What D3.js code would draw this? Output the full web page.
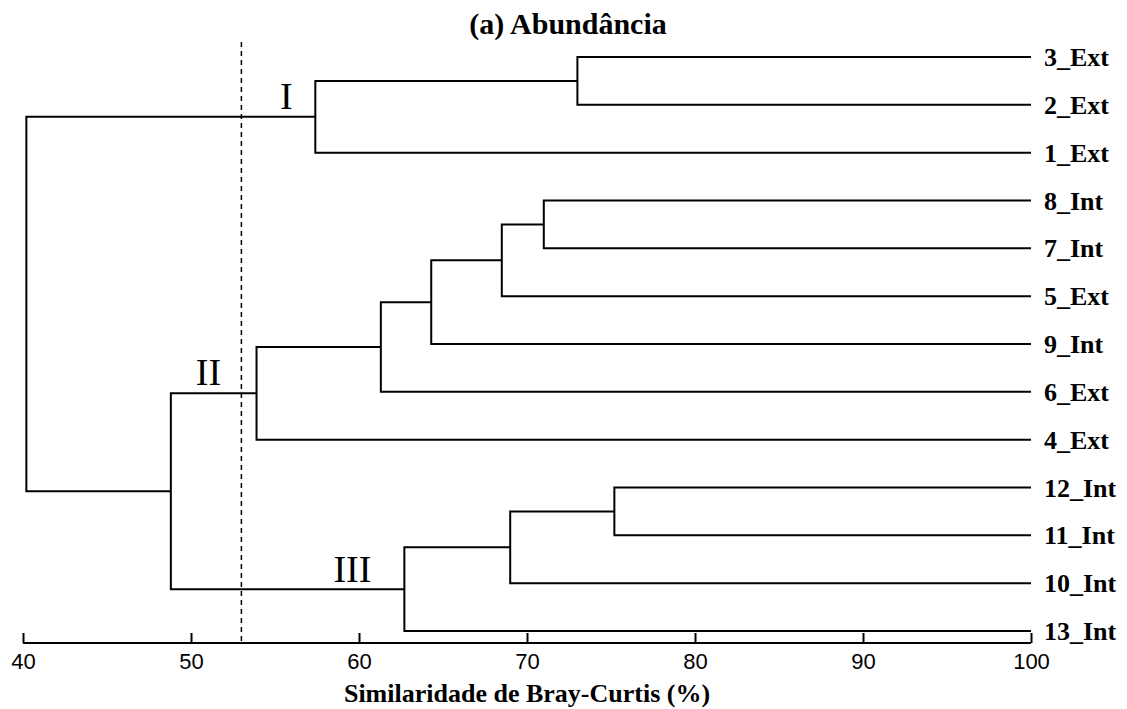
<!DOCTYPE html>
<html>
<head>
<meta charset="utf-8">
<script src="https://cdn.jsdelivr.net/npm/d3@7"></script>
<style>
  html, body { margin: 0; padding: 0; background: #fff; }
  svg { display: block; }
</style>
</head>
<body>
<svg id="chart" width="1127" height="709"></svg>
<script>
// Leaf order (top to bottom)
const leaves = ["3_Ext", "2_Ext", "1_Ext", "8_Int", "7_Int", "5_Ext", "9_Int", "6_Ext", "4_Ext", "12_Int", "11_Int", "10_Int", "13_Int"];

// Agglomeration steps: [left member, right member, Bray-Curtis similarity (%)]
// Members are leaf names or ids of earlier steps ("c0", "c1", ...)
const mergeLeft = ["3_Ext", "c0", "8_Int", "c2", "c3", "c4", "c5", "12_Int", "c7", "c8", "c6", "c1"];
const mergeRight = ["2_Ext", "1_Ext", "7_Int", "5_Ext", "9_Int", "6_Ext", "4_Ext", "11_Int", "10_Int", "13_Int", "c9", "c10"];
const mergeSimilarity = [73.0, 57.4, 71.0, 68.5, 64.3, 61.3, 53.9, 75.2, 69.0, 62.7, 48.8, 40.2];

// Cut level and group labels
const cutLevel = 53;
const groupNames = ["I", "II", "III"];
const groupAnchors = ["c1", "c6", "c9"];

const xTicks = [40, 50, 60, 70, 80, 90, 100];

const serif = "'Liberation Serif', 'Times New Roman', serif";
const svg = d3.select("#chart");
const x = d3.scaleLinear().domain([40, 100]).range([23, 1031]);
const y = d3.scalePoint().domain(leaves).range([57, 631]);
const axisY = 643;

// Node positions
const nodes = {};
leaves.forEach(l => { nodes[l] = { x: x(100), y: y(l) }; });
mergeSimilarity.forEach((s, i) => {
  const a = nodes[mergeLeft[i]], b = nodes[mergeRight[i]];
  nodes["c" + i] = { x: x(s), y: (a.y + b.y) / 2, a, b };
});

const g = svg.append("g")
  .attr("fill", "none")
  .attr("stroke", "#000")
  .attr("stroke-width", 2);

mergeSimilarity.forEach((s, i) => {
  const n = nodes["c" + i];
  const path = d3.path();
  path.moveTo(n.a.x, n.a.y);
  path.lineTo(n.x, n.a.y);
  path.lineTo(n.x, n.b.y);
  path.lineTo(n.b.x, n.b.y);
  g.append("path").attr("d", path.toString());
});

// Cut line
svg.append("line")
  .attr("x1", x(cutLevel)).attr("x2", x(cutLevel))
  .attr("y1", 42).attr("y2", axisY)
  .attr("stroke", "#000")
  .attr("stroke-width", 1.5)
  .attr("stroke-dasharray", "5,4");

// Leaf labels
svg.append("g").selectAll("text")
  .data(leaves)
  .join("text")
  .attr("x", 1044)
  .attr("y", d => y(d))
  .attr("dy", "0.35em")
  .attr("font-family", serif)
  .attr("font-weight", "bold")
  .attr("font-size", 26)
  .attr("fill", "#000")
  .text(d => d);

// Group labels
const groupOffsets = [[-29, -8], [-48, -8], [-52, -7]];
svg.append("g").selectAll("text")
  .data(groupNames)
  .join("text")
  .attr("x", (d, i) => nodes[groupAnchors[i]].x + groupOffsets[i][0])
  .attr("y", (d, i) => nodes[groupAnchors[i]].y + groupOffsets[i][1])
  .attr("text-anchor", "middle")
  .attr("font-family", serif)
  .attr("font-size", 38)
  .attr("fill", "#000")
  .text(d => d);

// X axis
const axis = d3.axisBottom(x).tickValues(xTicks).tickSize(0).tickPadding(10);
const ax = svg.append("g").attr("transform", `translate(0,${axisY})`).call(axis);
ax.select(".domain").attr("stroke", "#000").attr("stroke-width", 2).attr("d", `M${x(40)},0H${x(100)}`);
ax.selectAll(".tick line").remove();
ax.selectAll(".tick").append("line")
  .attr("y1", 0).attr("y2", -10)
  .attr("stroke", "#000").attr("stroke-width", 2);
ax.selectAll(".tick text")
  .attr("font-family", "'Liberation Sans', Arial, sans-serif")
  .attr("font-size", 22)
  .attr("fill", "#000");

// Axis title
svg.append("text")
  .attr("x", 527).attr("y", 702)
  .attr("text-anchor", "middle")
  .attr("font-family", serif)
  .attr("font-weight", "bold")
  .attr("font-size", 26)
  .attr("fill", "#000")
  .text("Similaridade de Bray-Curtis (%)");

// Title
svg.append("text")
  .attr("x", 568).attr("y", 34)
  .attr("text-anchor", "middle")
  .attr("font-family", serif)
  .attr("font-weight", "bold")
  .attr("font-size", 30)
  .attr("fill", "#000")
  .text("(a) Abundância");
</script>
</body>
</html>
